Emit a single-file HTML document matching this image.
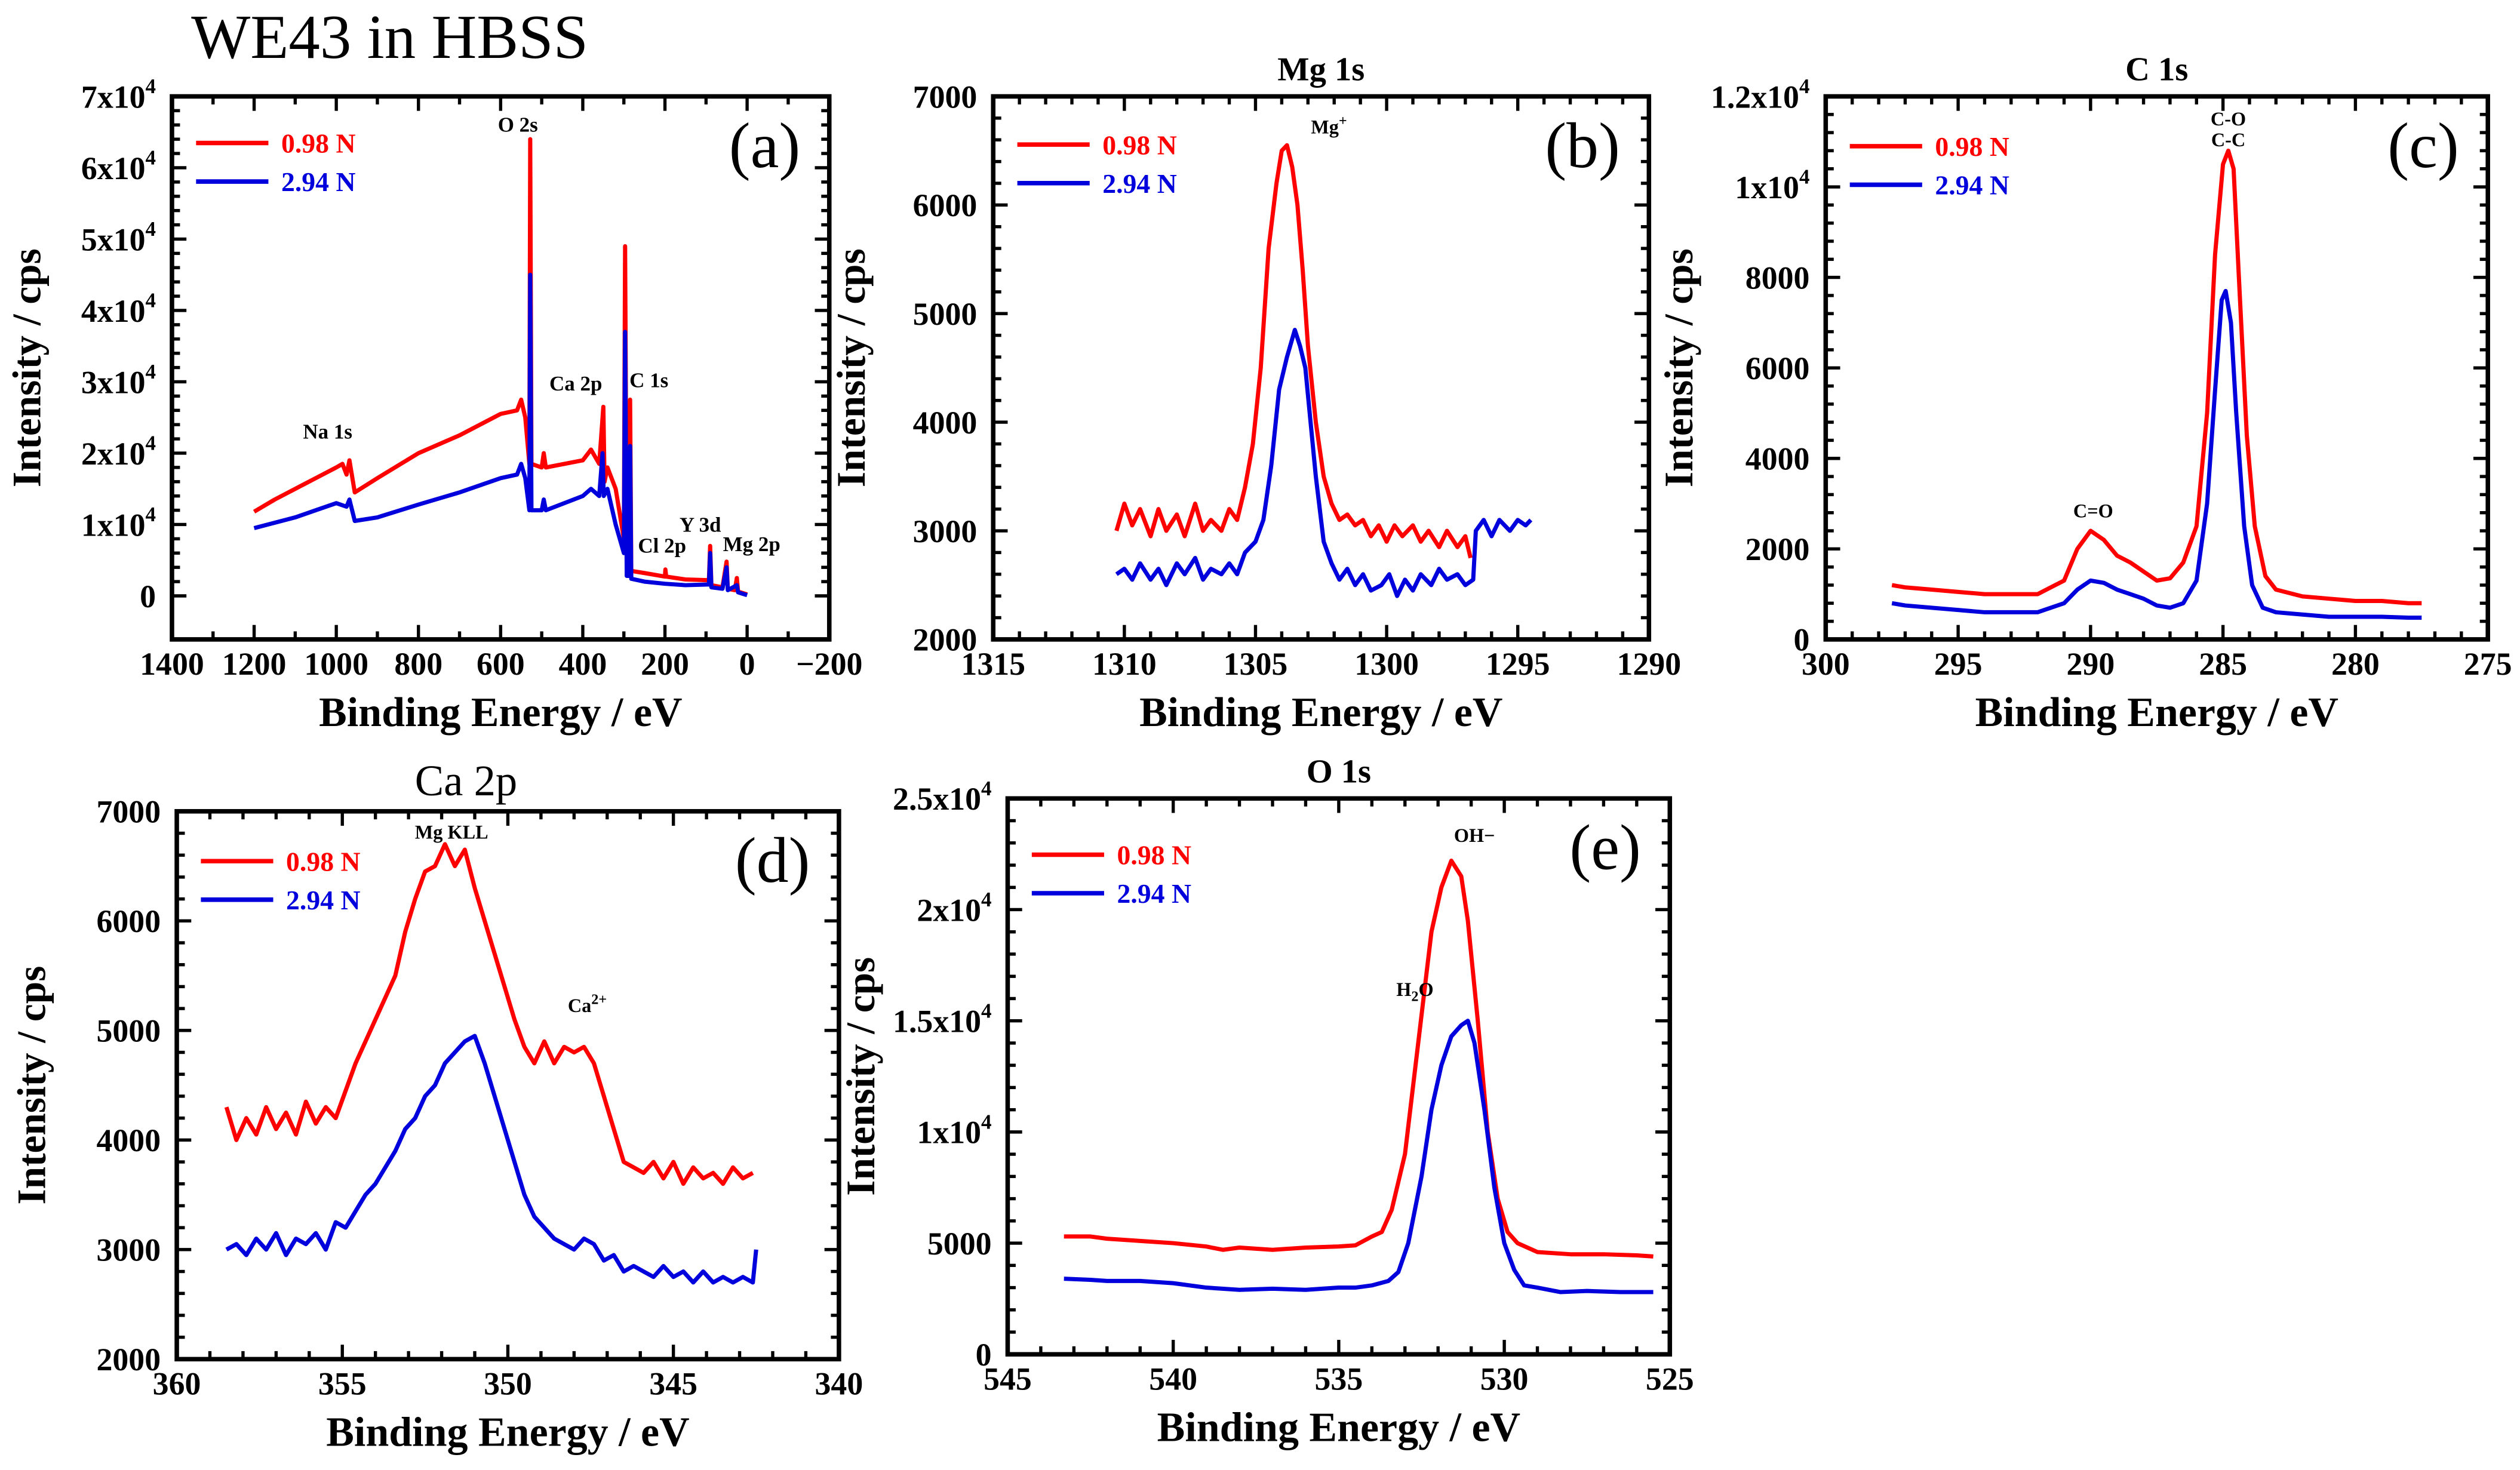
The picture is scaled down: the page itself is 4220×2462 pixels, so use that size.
<!DOCTYPE html>
<html><head><meta charset="utf-8">
<style>
html,body{margin:0;padding:0;background:#fff;}
svg{display:block;}
text{font-family:"Liberation Serif",serif;}
</style></head>
<body>
<svg id="fig" width="4220" height="2462" viewBox="0 0 1568 915" preserveAspectRatio="none" xmlns="http://www.w3.org/2000/svg">
<text x="119" y="36" font-size="39">WE43 in HBSS</text>
</svg>
<script>
// ---------- DATA ----------
const aRedX=[1200,1150,1100,1050,1000,985,975,968,955,900,800,700,600,560,550,540,530,528,525,500,495,490,400,380,360,350,347,340,320,300,297,293,285,284.8,282,250,200,199,197,150,93,90,87,60,50,47,30,25,22,0];
const aRedY=[11800,13500,15000,16500,18000,18500,17000,19000,14500,16500,20000,22500,25500,26000,27500,25000,18500,64000,18500,18000,20000,18000,19000,20500,18500,26500,16000,18000,15000,8000,49000,4000,4000,27500,3500,3200,2700,3700,2700,2300,2200,7000,1500,1200,4800,1000,800,2500,600,200];
const aBlueX=[1200,1100,1050,1000,975,968,955,900,800,700,600,560,550,540,530,528,525,500,495,490,400,380,360,352,349,340,320,300,297,293,285,284.8,282,250,200,150,93,90,87,60,50,47,25,22,0];
const aBlueY=[9500,11000,12000,13000,12500,13500,10500,11000,12800,14500,16500,17000,18500,16500,12000,45000,12000,12000,13500,12000,14000,15000,14000,20000,14000,15000,10000,6000,37000,2800,2800,21000,2400,2000,1700,1500,1600,6000,1200,1000,4000,800,1500,500,100];

const bRedX=[1310.3,1310,1309.7,1309.4,1309,1308.7,1308.4,1308,1307.7,1307.3,1307,1306.7,1306.3,1306,1305.7,1305.4,1305.1,1304.8,1304.5,1304.2,1304,1303.8,1303.6,1303.4,1303.2,1303,1302.7,1302.4,1302.1,1301.8,1301.5,1301.2,1300.9,1300.6,1300.3,1300,1299.7,1299.4,1299,1298.7,1298.4,1298,1297.7,1297.3,1297,1296.8];
const bRedY=[3000,3250,3050,3200,2950,3200,3000,3150,2950,3250,3000,3100,3000,3200,3100,3400,3800,4500,5600,6200,6500,6550,6350,6000,5400,4700,4000,3500,3250,3100,3150,3050,3100,2950,3050,2900,3050,2950,3050,2900,3000,2850,3000,2850,2950,2750];
const bBlueX=[1310.3,1310,1309.7,1309.4,1309,1308.7,1308.4,1308,1307.7,1307.3,1307,1306.7,1306.3,1306,1305.7,1305.4,1305,1304.7,1304.4,1304.1,1303.8,1303.5,1303.3,1303.1,1302.9,1302.7,1302.4,1302.1,1301.8,1301.5,1301.2,1300.9,1300.6,1300.2,1299.9,1299.6,1299.3,1299,1298.7,1298.3,1298,1297.7,1297.3,1297,1296.7,1296.6,1296.3,1296,1295.7,1295.3,1295,1294.7,1294.5];
const bBlueY=[2600,2650,2550,2700,2550,2650,2500,2700,2600,2750,2550,2650,2600,2700,2600,2800,2900,3100,3600,4300,4600,4850,4700,4500,4000,3500,2900,2700,2550,2650,2500,2600,2450,2500,2600,2400,2550,2450,2600,2500,2650,2550,2600,2500,2550,3000,3100,2950,3100,3000,3100,3050,3100];

const cRedX=[297.5,297,296,295,294,293,292,291,290.5,290,289.5,289,288.5,288,287.5,287,286.5,286,285.6,285.3,285,284.8,284.6,284.4,284.1,283.8,283.4,283,282,281,280,279,278,277.5];
const cRedY=[1200,1150,1100,1050,1000,1000,1000,1300,2000,2400,2200,1850,1700,1500,1300,1350,1700,2500,5000,8500,10500,10800,10400,8000,4500,2500,1400,1100,950,900,850,850,800,800];
const cBlueX=[297.5,297,296,295,294,293,292,291,290.5,290,289.5,289,288.5,288,287.5,287,286.5,286,285.6,285.3,285.05,284.9,284.7,284.5,284.2,283.9,283.5,283,282,281,280,279,278,277.5];
const cBlueY=[800,750,700,650,600,600,600,800,1100,1300,1250,1100,1000,900,750,700,800,1300,3000,5500,7500,7700,7000,5000,2500,1200,700,600,550,500,500,500,480,480];

const dRedX=[358.5,358.2,357.9,357.6,357.3,357,356.7,356.4,356.1,355.8,355.5,355.2,354.9,354.6,354.3,354,353.7,353.4,353.1,352.8,352.5,352.2,351.9,351.6,351.3,351,350.7,350.4,350.1,349.8,349.5,349.2,348.9,348.6,348.3,348,347.7,347.4,347.1,346.8,346.5,346.2,345.9,345.6,345.3,345,344.7,344.4,344.1,343.8,343.5,343.2,342.9,342.6];
const dRedY=[4300,4000,4200,4050,4300,4100,4250,4050,4350,4150,4300,4200,4450,4700,4900,5100,5300,5500,5900,6200,6450,6500,6700,6500,6650,6300,6000,5700,5400,5100,4850,4700,4900,4700,4850,4800,4850,4700,4400,4100,3800,3750,3700,3800,3650,3800,3600,3750,3650,3700,3600,3750,3650,3700];
const dBlueX=[358.5,358.2,357.9,357.6,357.3,357,356.7,356.4,356.1,355.8,355.5,355.2,354.9,354.6,354.3,354,353.7,353.4,353.1,352.8,352.5,352.2,351.9,351.6,351.3,351,350.7,350.4,350.1,349.8,349.5,349.2,348.9,348.6,348.3,348,347.7,347.4,347.1,346.8,346.5,346.2,345.9,345.6,345.3,345,344.7,344.4,344.1,343.8,343.5,343.2,342.9,342.6,342.5];
const dBlueY=[3000,3050,2950,3100,3000,3150,2950,3100,3050,3150,3000,3250,3200,3350,3500,3600,3750,3900,4100,4200,4400,4500,4700,4800,4900,4950,4700,4400,4100,3800,3500,3300,3200,3100,3050,3000,3100,3050,2900,2950,2800,2850,2800,2750,2850,2750,2800,2700,2800,2700,2750,2700,2750,2700,3000];

const eRedX=[543.3,542.5,542,541,540,539,538.5,538,537,536,535,534.5,534,533.7,533.4,533,532.6,532.2,531.9,531.6,531.3,531.1,530.8,530.5,530.2,529.9,529.6,529,528,527,526,525.5];
const eRedY=[5300,5300,5200,5100,5000,4850,4700,4800,4700,4800,4850,4900,5300,5500,6500,9000,14000,19000,21000,22200,21500,19500,15000,10000,7000,5500,5000,4600,4500,4500,4450,4400];
const eBlueX=[543.3,542.5,542,541,540,539,538,537,536,535,534.5,534,533.5,533.2,532.9,532.5,532.2,531.9,531.6,531.3,531.1,530.9,530.6,530.3,530,529.7,529.4,529,528.3,527.5,526.5,525.5];
const eBlueY=[3400,3350,3300,3300,3200,3000,2900,2950,2900,3000,3000,3100,3300,3700,5000,8000,11000,13000,14300,14800,15000,14000,11000,7500,5000,3800,3100,3000,2800,2850,2800,2800];

// ---------- DRAWING ----------
const NS="http://www.w3.org/2000/svg";
const svg=document.getElementById('fig');
function el(tag,attrs,parent){const e=document.createElementNS(NS,tag);for(const k in attrs)e.setAttribute(k,attrs[k]);(parent||svg).appendChild(e);return e;}

function panel(p){
  const g=el('g',{});
  
  
  const sx=v=>p.L+(v-p.x0)/(p.x1-p.x0)*(p.R-p.L);
  const sy=v=>p.B-(v-p.y0)/(p.y1-p.y0)*(p.B-p.T);
  for(let v=p.x0;p.x0>p.x1? v>=p.x1-1e-9 : v<=p.x1+1e-9; v+= (p.x0>p.x1?-p.xm:p.xm)){
    const x=sx(v);
    const isMaj=Math.abs(Math.round((v-p.x0)/p.xM)*p.xM-(v-p.x0))<1e-6;
    const len=isMaj?9:5;
    const t1=el('line',{x1:x,x2:x,y1:p.B,y2:p.B-len,stroke:'#000','stroke-width':2},g);
    
    
    const t2=el('line',{x1:x,x2:x,y1:p.T,y2:p.T+len,stroke:'#000','stroke-width':2},g);
    
    
  }
  for(let v=p.yt0;v<=p.y1+1e-9;v+=p.ym){
    if(v<p.y0-1e-9)continue;
    const y=sy(v);
    const isMaj=Math.abs(Math.round((v-p.yt0)/p.yM)*p.yM-(v-p.yt0))<1e-6;
    const len=isMaj?9:5;
    const t1=el('line',{x1:p.L,x2:p.L+len,y1:y,y2:y,stroke:'#000','stroke-width':2},g);
    
    
    const t2=el('line',{x1:p.R,x2:p.R-len,y1:y,y2:y,stroke:'#000','stroke-width':2},g);
    
    
  }
  p.xLabels.forEach(v=>{
    const t=el('text',{x:sx(v),y:p.B+22,'font-size':20,'font-weight':'bold','text-anchor':'middle'},g);
    t.textContent=(v<0?'\u2212'+(-v):String(v));
    
    
  });
  p.yLabels.forEach((lab,i)=>{
    const v=p.yVals[i];
    const t=el('text',{x:p.L-10,y:sy(v)+7,'font-size':20,'font-weight':'bold','text-anchor':'end'},g);
    
    
    if(lab.indexOf('x10')>=0){
      const parts=lab.split('^');
      const s1=el('tspan',{},t);s1.textContent=parts[0];
      const s2=el('tspan',{'font-size':13,dy:-9},t);s2.textContent=parts[1];
      const s3=el('tspan',{dy:9,'font-size':1},t);s3.textContent=' ';
    } else t.textContent=lab;
  });
  p.series.forEach(s=>{
    const d=s.x.map((v,i)=>(i?'L':'M')+sx(v).toFixed(2)+' '+sy(s.y[i]).toFixed(2)).join(' ');
    const path=el('path',{d:d,fill:'none',stroke:s.c,'stroke-width':2.6,'stroke-linejoin':'round'},g);
    
    
  });
  const fr=el('rect',{x:p.L,y:p.T,width:p.R-p.L,height:p.B-p.T,fill:'none',stroke:'#000','stroke-width':2.8},g);
  
  
  const xt=el('text',{x:(p.L+p.R)/2,y:p.B+54,'font-size':26,'font-weight':'bold','text-anchor':'middle'},g);
  xt.textContent='Binding Energy / eV';
  
  
  const yc=(p.T+p.B)/2;
  const yt=el('text',{x:0,y:0,'font-size':25,'font-weight':'bold','text-anchor':'middle',transform:`translate(${p.yTitleX+8},${yc}) rotate(-90)`},g);
  yt.textContent='Intensity / cps';
  
  
  if(p.title){
    const tt=el('text',{x:(p.L+p.R)/2+(p.titleDx||0),y:p.T-10,'font-size':p.titleBold?21:27,'font-weight':p.titleBold?'bold':'normal','text-anchor':'middle'},g);
    tt.textContent=p.title;
    
    
  }
  [['0.98 N','#ff0000',0],['2.94 N','#0000dd',1]].forEach(([lab,c,i])=>{
    const y=p.T+p.legY+i*24;
    const ln=el('line',{x1:p.L+15,x2:p.L+60,y1:y,y2:y,stroke:c,'stroke-width':2.8},g);
    
    
    const tx=el('text',{x:p.L+68,y:y+6,'font-size':17,'font-weight':'bold',fill:c},g);
    tx.textContent=lab;
    
    
  });
  const pl=el('text',{x:p.R-18,y:p.T+44,'font-size':40,'text-anchor':'end'},g);
  pl.textContent='('+p.id+')';
  
  
  p.ann.forEach(a=>{
    const t=el('text',{x:sx(a[1]),y:a[2],'font-size':a[3]||13,'font-weight':'bold','text-anchor':'middle'},g);
    
    
    if(a[4]){const s1=el('tspan',{},t);s1.textContent=a[0];const s2=el('tspan',{'font-size':9,dy:a[4]},t);s2.textContent=a[5];if(a[6]){const s3=el('tspan',{dy:-a[4]},t);s3.textContent=a[6];}}
    else t.textContent=a[0];
  });
}

panel({id:'a',L:107,R:516,T:60,B:398,x0:1400,x1:-200,xM:200,xm:100,y0:-6100,y1:70000,yt0:0,yM:10000,ym:2000,
  xLabels:[1400,1200,1000,800,600,400,200,0,-200],
  yVals:[0,10000,20000,30000,40000,50000,60000,70000],
  yLabels:['0','1x10^4','2x10^4','3x10^4','4x10^4','5x10^4','6x10^4','7x10^4'],
  yTitleX:17,legY:29,title:null,
  series:[{name:'series-0.98N',x:aRedX,y:aRedY,c:'#ff0000'},{name:'series-2.94N',x:aBlueX,y:aBlueY,c:'#0000dd'}],
  ann:[['Na 1s',1021,273],['O 2s',558,82],['Ca 2p',417,243],['C 1s',239,241],['Cl 2p',207,344],['Y 3d',114,331],['Mg 2p',-11,343]]});
panel({id:'b',L:618,R:1026,T:60,B:398,x0:1315,x1:1290,xM:5,xm:1,y0:2000,y1:7000,yt0:2000,yM:1000,ym:200,
  xLabels:[1315,1310,1305,1300,1295,1290],
  yVals:[2000,3000,4000,5000,6000,7000],yLabels:['2000','3000','4000','5000','6000','7000'],
  yTitleX:530,legY:30,title:'Mg 1s',titleBold:true,
  series:[{name:'series-0.98N',x:bRedX,y:bRedY,c:'#ff0000'},{name:'series-2.94N',x:bBlueX,y:bBlueY,c:'#0000dd'}],
  ann:[['Mg',1302.2,83,12,-5,'+']]});
panel({id:'c',L:1136,R:1548,T:60,B:398,x0:300,x1:275,xM:5,xm:1,y0:0,y1:12000,yt0:0,yM:2000,ym:400,
  xLabels:[300,295,290,285,280,275],
  yVals:[0,2000,4000,6000,8000,10000,12000],yLabels:['0','2000','4000','6000','8000','1x10^4','1.2x10^4'],
  yTitleX:1045,legY:31,title:'C 1s',titleBold:true,
  series:[{name:'series-0.98N',x:cRedX,y:cRedY,c:'#ff0000'},{name:'series-2.94N',x:cBlueX,y:cBlueY,c:'#0000dd'}],
  ann:[['C-O',284.8,78,12],['C-C',284.8,91,12],['C=O',289.9,322,12]]});
panel({id:'d',L:110,R:522,T:505,B:846,x0:360,x1:340,xM:5,xm:1,y0:2000,y1:7000,yt0:2000,yM:1000,ym:200,
  xLabels:[360,355,350,345,340],
  yVals:[2000,3000,4000,5000,6000,7000],yLabels:['2000','3000','4000','5000','6000','7000'],
  yTitleX:20,legY:31,title:'Ca 2p',titleBold:false,titleDx:-26,
  series:[{name:'series-0.98N',x:dRedX,y:dRedY,c:'#ff0000'},{name:'series-2.94N',x:dBlueX,y:dBlueY,c:'#0000dd'}],
  ann:[['Mg KLL',351.7,522,12],['Ca',347.6,630,12,-5,'2+']]});
panel({id:'e',L:627,R:1039,T:497,B:843,x0:545,x1:525,xM:5,xm:1,y0:0,y1:25000,yt0:0,yM:5000,ym:1000,
  xLabels:[545,540,535,530,525],
  yVals:[0,5000,10000,15000,20000,25000],yLabels:['0','5000','1x10^4','1.5x10^4','2x10^4','2.5x10^4'],
  yTitleX:536,legY:35,title:'O 1s',titleBold:true,
  series:[{name:'series-0.98N',x:eRedX,y:eRedY,c:'#ff0000'},{name:'series-2.94N',x:eBlueX,y:eBlueY,c:'#0000dd'}],
  ann:[['OH\u2212',530.9,524,12],['H',532.7,620,12,3,'2','O']]});
</script>
</body></html>
